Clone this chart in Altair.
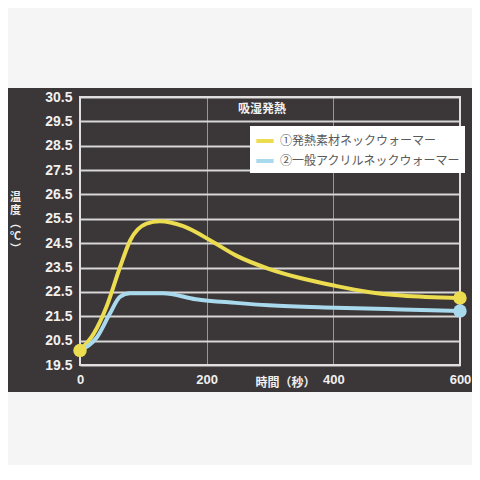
import altair as alt
import pandas as pd

series_names = ["①発熱素材ネックウォーマー", "②一般アクリルネックウォーマー"]
series_colors = ["#ecdc50", "#a9d9ec"]

t_yellow = [0, 22, 42, 63, 79, 105, 126, 163, 210, 246, 298, 351, 403, 455, 508, 600]
v_yellow = [20.1, 20.8, 21.9, 23.5, 24.6, 25.3, 25.4, 25.2, 24.55, 24.0, 23.45, 23.05, 22.75, 22.5, 22.35, 22.25]
t_blue = [0, 27, 47, 63, 79, 131, 183, 246, 298, 403, 508, 600]
v_blue = [20.1, 20.65, 21.6, 22.3, 22.45, 22.45, 22.2, 22.05, 21.95, 21.85, 21.78, 21.72]

y_ticks = [19.5, 20.5, 21.5, 22.5, 23.5, 24.5, 25.5, 26.5, 27.5, 28.5, 29.5, 30.5]
x_ticks = [0, 200, 400, 600]

title_text = "吸湿発熱"
x_title = "時間（秒）"
y_title = ["温", "度", "︵", "℃", "︶"]

rows = []
for i, (t, v) in enumerate(zip(t_yellow, v_yellow)):
    rows.append({"t": t, "v": v, "s": series_names[0], "o": i})
for i, (t, v) in enumerate(zip(t_blue, v_blue)):
    rows.append({"t": t, "v": v, "s": series_names[1], "o": i})
df = pd.DataFrame(rows)

ends = pd.DataFrame([
    {"t": t_yellow[-1], "v": v_yellow[-1], "s": series_names[0]},
    {"t": t_blue[-1], "v": v_blue[-1], "s": series_names[1]},
    {"t": t_yellow[0], "v": v_yellow[0], "s": series_names[0]},
])

W, H = 380, 268
PADL = 72
DARK = "#3b3637"
PAPER = "#f6f5f5"

xs = alt.Scale(domain=[0, 600], nice=False)
ys = alt.Scale(domain=[19.5, 30.5], nice=False, zero=False)
cs = alt.Scale(domain=series_names, range=series_colors)

one = pd.DataFrame({"a": [0]})
paper_top = alt.Chart(one).mark_rect(color=PAPER).encode(
    x=alt.value(-80), x2=alt.value(W + 20), y=alt.value(-95), y2=alt.value(-9)
)
paper_bottom = alt.Chart(one).mark_rect(color=PAPER).encode(
    x=alt.value(-80), x2=alt.value(W + 20), y=alt.value(H + 27), y2=alt.value(H + 110)
)

base_axes = alt.Chart(df).mark_line(opacity=0).encode(
    x=alt.X("t:Q", scale=xs, axis=alt.Axis(
        values=x_ticks, tickCount=10, title=x_title, grid=True, gridColor="#9a9696", gridWidth=1,
        domain=False, ticks=False, labelColor="#f0f0f0", labelFont="Liberation Sans",
        labelFontWeight="bold", labelFontSize=13, labelPadding=8, labelFlush=False,
        labelOverlap=False, format="d",
        titleColor="#f0f0f0", titleFont="Noto Sans CJK JP", titleFontWeight="bold",
        titleFontSize=12, titleX=205, titleY=17, titleBaseline="middle", titleAlign="center")),
    y=alt.Y("v:Q", scale=ys, axis=alt.Axis(
        values=y_ticks, tickCount=30, title=y_title, grid=True, gridColor="#d8d6d6", gridWidth=2,
        domain=False, ticks=False, labelColor="#f0f0f0", labelFont="Liberation Sans",
        labelFontWeight="bold", labelFontSize=14, labelPadding=8, labelFlush=False,
        labelOverlap=False, format=".1f",
        titleColor="#f0f0f0", titleFont="Noto Sans CJK JP", titleFontWeight="bold",
        titleFontSize=11, titleAngle=0, titleX=-65, titleY=100, titleLineHeight=13,
        titleAlign="center", titleBaseline="middle")),
)

border = alt.Chart(one).mark_rect(
    fill=None, stroke="#e0dede", strokeWidth=2
).encode(x=alt.value(0), x2=alt.value(W), y=alt.value(0), y2=alt.value(H))

lines = alt.Chart(df).mark_line(interpolate="monotone", strokeWidth=4).encode(
    x=alt.X("t:Q", scale=xs),
    y=alt.Y("v:Q", scale=ys),
    color=alt.Color("s:N", scale=cs, sort=series_names, legend=alt.Legend(
        title=None, orient="none", legendX=170, legendY=29, fillColor="white",
        padding=4, symbolType="stroke", symbolStrokeWidth=4, symbolSize=300,
        labelFont="Noto Sans CJK JP", labelFontSize=12, labelColor="#5a5a5a",
        rowPadding=1, labelLimit=300, labelOffset=4)),
    order="o:Q",
)

dots = alt.Chart(ends).mark_circle(size=180, opacity=1).encode(
    x=alt.X("t:Q", scale=xs), y=alt.Y("v:Q", scale=ys),
    color=alt.Color("s:N", scale=cs, legend=None),
)

title = alt.Chart(one).mark_text(
    text=title_text, color="#f0f0f0", font="Noto Sans CJK JP", fontWeight="bold", fontSize=12,
    baseline="middle", align="center"
).encode(x=alt.value(182), y=alt.value(12))

chart = alt.layer(paper_top, paper_bottom, base_axes, border, lines, dots, title).properties(
    width=W, height=H,
    padding={"left": PADL, "top": 89, "right": 12, "bottom": 100},
    autosize="none", background=DARK,
).configure_view(stroke=None)

chart.save("out.html", embed_options={"renderer": "svg", "actions": False})
